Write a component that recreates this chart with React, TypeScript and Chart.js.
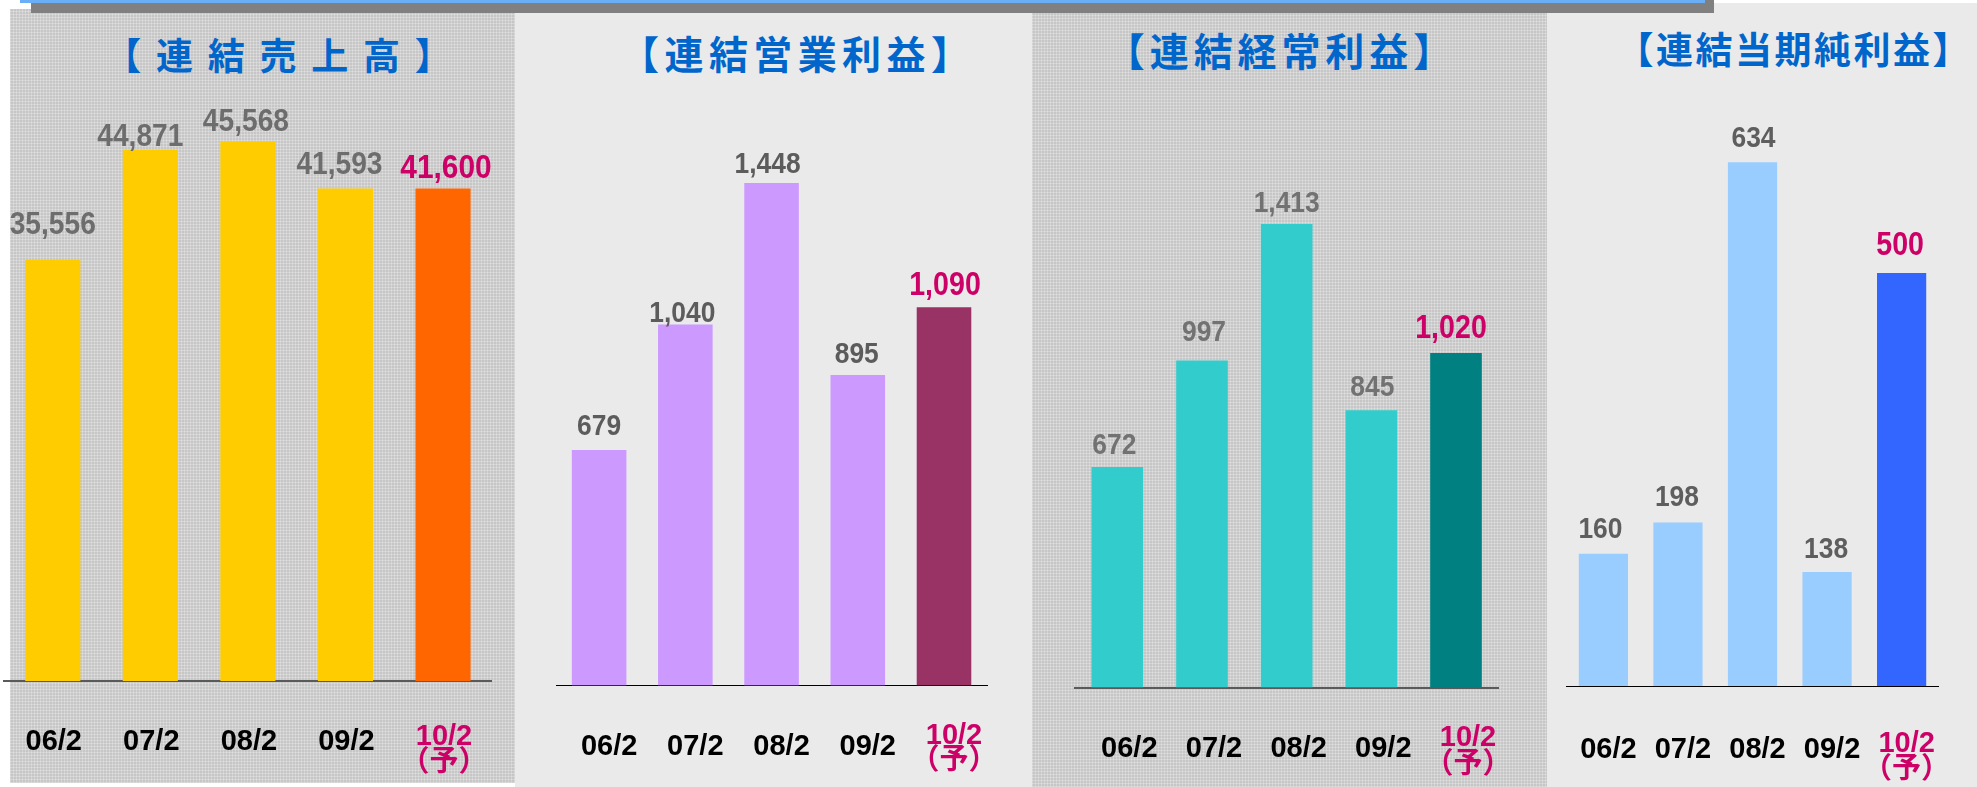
import React, { useEffect, useRef } from 'react';
import { Chart, registerables } from 'chart.js';

Chart.register(...registerables);

// ---------- data ----------
const categories: (string | string[])[] = ['06/2', '07/2', '08/2', '09/2', ['10/2', '（予）']];
const salesValues = [35556, 44871, 45568, 41593, 41600];
const operatingIncomeValues = [679, 1040, 1448, 895, 1090];
const ordinaryIncomeValues = [672, 997, 1413, 845, 1020];
const netIncomeValues = [160, 198, 634, 138, 500];
const panelTitles = ['【連結売上高】', '【連結営業利益】', '【連結経常利益】', '【連結当期純利益】'];
const yAxisMax = [55000, 1800, 2000, 800];

const FORECAST_INDEX = 4;
const FORECAST_TEXT = '#CC0066';
const TICK_FONT = "'Liberation Sans', 'Noto Sans CJK JP', sans-serif";
const VALUE_FONT = "'Liberation Sans', 'DejaVu Sans', sans-serif";
const TITLE_FONT = "'Noto Sans CJK JP', 'Noto Sans CJK SC', sans-serif";
const W = 1977;
const H = 787;
const SIDE = 30;

type PanelStyle = {
  values: number[];
  max: number;
  title: string;
  barColor: string;
  forecastColor: string;
  lineLeft: number;
  lineRight: number;
  baseline: number;
  plotTop: number;
  barPct: number;
  axisColor: string;
  axisWidth: number;
  tickPad: number;
  lh1: number;
  lh2: number;
  labelOffset: number;
  valueColor: string;
  valueSize: number;
  forecastSize: number;
  gaps: number[];
  shifts: number[];
  titleX: number;
  titleTop: number;
  titleSize: number;
  titleSpacing: number;
};

const panels: PanelStyle[] = [
  {
    values: salesValues, max: yAxisMax[0], title: panelTitles[0],
    barColor: '#FFCC00', forecastColor: '#FF6600',
    lineLeft: 4, lineRight: 502, baseline: 681, plotTop: 29.8, barPct: 0.565,
    axisColor: '#5a5a5a', axisWidth: 2,
    tickPad: 42.5, lh1: 37, lh2: 26, labelOffset: 1,
    valueColor: '#6d6d6d', valueSize: 32, forecastSize: 34,
    gaps: [26, 4, 10, 15, 10], shifts: [0, -10, -2, -6, 3],
    titleX: 278, titleTop: 36, titleSize: 37, titleSpacing: 14.75,
  },
  {
    values: operatingIncomeValues, max: yAxisMax[1], title: panelTitles[1],
    barColor: '#CC99FF', forecastColor: '#993366',
    lineLeft: 556, lineRight: 998, baseline: 685.5, plotTop: 60.9, barPct: 0.633,
    axisColor: '#000000', axisWidth: 1,
    tickPad: 37.5, lh1: 48, lh2: 25, labelOffset: 10,
    valueColor: '#5c5c5c', valueSize: 30, forecastSize: 32.5,
    gaps: [15, 3, 10, 12, 12], shifts: [0, -3, -4, -1, 1],
    titleX: 795, titleTop: 33, titleSize: 39, titleSpacing: 5.4,
  },
  {
    values: ordinaryIncomeValues, max: yAxisMax[2], title: panelTitles[2],
    barColor: '#33CCCC', forecastColor: '#008080',
    lineLeft: 1075, lineRight: 1509, baseline: 687.5, plotTop: 31.5, barPct: 0.61,
    axisColor: '#5a5a5a', axisWidth: 2,
    tickPad: 36.5, lh1: 50, lh2: 27, labelOffset: 12,
    valueColor: '#727272', valueSize: 30, forecastSize: 32.5,
    gaps: [13, 19, 12, 14, 15], shifts: [-3, 2, 0, 1, -5],
    titleX: 1279, titleTop: 29.5, titleSize: 39, titleSpacing: 4.9,
  },
  {
    values: netIncomeValues, max: yAxisMax[3], title: panelTitles[3],
    barColor: '#99CCFF', forecastColor: '#3366FF',
    lineLeft: 1560, lineRight: 1962, baseline: 686, plotTop: 25.2, barPct: 0.66,
    axisColor: '#000000', axisWidth: 1,
    tickPad: 44.5, lh1: 39, lh2: 26.5, labelOffset: 5,
    valueColor: '#5e5e5e', valueSize: 30, forecastSize: 32.5,
    gaps: [16, 16, 15, 14, 18], shifts: [-3, -1, 1, -1, -1.5],
    titleX: 1793, titleTop: 29.5, titleSize: 37, titleSpacing: 2.5,
  },
];

function valueLabelPlugin(p: PanelStyle) {
  return {
    id: 'valueLabels',
    afterDatasetsDraw(chart: any) {
      const ctx = chart.ctx as CanvasRenderingContext2D;
      const meta = chart.getDatasetMeta(0);
      const data = chart.data.datasets[0].data as number[];
      meta.data.forEach((el: any, i: number) => {
        const forecast = i === FORECAST_INDEX;
        ctx.save();
        ctx.font = `bold ${forecast ? p.forecastSize : p.valueSize}px ${VALUE_FONT}`;
        ctx.fillStyle = forecast ? FORECAST_TEXT : p.valueColor;
        ctx.textAlign = 'center';
        ctx.textBaseline = 'alphabetic';
        ctx.translate(el.x + p.shifts[i], el.y - p.gaps[i]);
        ctx.scale(0.88, 1);
        ctx.fillText(Number(data[i]).toLocaleString('en-US'), 0, 0);
        ctx.restore();
      });
    },
  };
}

function PanelChart({ p }: { p: PanelStyle }) {
  const ref = useRef<HTMLCanvasElement>(null);
  useEffect(() => {
    if (!ref.current) return;
    const chart = new Chart(ref.current, {
      type: 'bar',
      data: {
        labels: categories as any,
        datasets: [
          {
            data: p.values,
            backgroundColor: p.values.map((_, i) => (i === FORECAST_INDEX ? p.forecastColor : p.barColor)),
            barPercentage: p.barPct,
            categoryPercentage: 1,
            borderWidth: 0,
          },
        ],
      },
      options: {
        responsive: false,
        animation: false,
        devicePixelRatio: 1,
        layout: { padding: { left: SIDE, right: SIDE, top: p.plotTop, bottom: 0 } },
        plugins: { legend: { display: false }, tooltip: { enabled: false }, title: { display: false } },
        scales: {
          x: {
            grid: { display: false, drawTicks: false },
            border: { display: true, color: p.axisColor, width: p.axisWidth },
            ticks: {
              autoSkip: false,
              maxRotation: 0,
              minRotation: 0,
              padding: p.tickPad,
              labelOffset: p.labelOffset,
              color: (c: any) => (c.index === FORECAST_INDEX ? FORECAST_TEXT : '#000000'),
              font: (c: any) => ({
                family: TICK_FONT,
                size: 29,
                weight: 'bold',
                lineHeight: `${c.index === FORECAST_INDEX ? p.lh2 : p.lh1}px`,
              }),
            },
            afterFit: (s: any) => {
              s.height = H - p.baseline;
            },
          },
          y: { display: false, min: 0, max: p.max },
        },
      } as any,
      plugins: [valueLabelPlugin(p)],
    });
    return () => chart.destroy();
  }, [p]);
  const width = p.lineRight - p.lineLeft + SIDE * 2;
  return (
    <canvas
      ref={ref}
      width={width}
      height={H}
      style={{ position: 'absolute', left: p.lineLeft - SIDE, top: 0, width, height: H }}
    />
  );
}

const texture: React.CSSProperties = {
  backgroundColor: '#c6c6c6',
  backgroundImage:
    'repeating-linear-gradient(0deg, rgba(255,255,255,0.25) 0px, rgba(255,255,255,0.25) 1px, transparent 1px, transparent 3px), repeating-linear-gradient(90deg, rgba(255,255,255,0.25) 0px, rgba(255,255,255,0.25) 1px, transparent 1px, transparent 3px)',
};

export default function App() {
  return (
    <div style={{ position: 'absolute', left: 0, top: 0, width: W, height: H, overflow: 'hidden', background: '#ffffff' }}>
      <div style={{ position: 'absolute', left: 10, top: 9, width: 505, height: 774, ...texture }} />
      <div style={{ position: 'absolute', left: 515, top: 9, width: 517, height: H - 9, background: '#EAEAEA' }} />
      <div style={{ position: 'absolute', left: 1032, top: 9, width: 515, height: H - 9, ...texture }} />
      <div style={{ position: 'absolute', left: 1547, top: 3, width: W - 1547, height: H - 3, background: '#EAEAEA' }} />
      <div style={{ position: 'absolute', left: 31, top: 0, width: 1683, height: 13, background: '#808080' }} />
      <div style={{ position: 'absolute', left: 20, top: 0, width: 1685, height: 3, background: '#6AAEF5' }} />
      {panels.map((p, i) => (
        <div
          key={'t' + i}
          style={{
            position: 'absolute',
            left: p.titleX - 300,
            width: 600,
            top: p.titleTop,
            textAlign: 'center',
            fontFamily: TITLE_FONT,
            fontWeight: 'bold',
            fontSize: p.titleSize,
            lineHeight: 1,
            letterSpacing: p.titleSpacing,
            paddingLeft: p.titleSpacing,
            boxSizing: 'border-box',
            whiteSpace: 'nowrap',
            color: '#0066CC',
          }}
        >
          {p.title}
        </div>
      ))}
      {panels.map((p, i) => (
        <PanelChart key={'c' + i} p={p} />
      ))}
    </div>
  );
}
